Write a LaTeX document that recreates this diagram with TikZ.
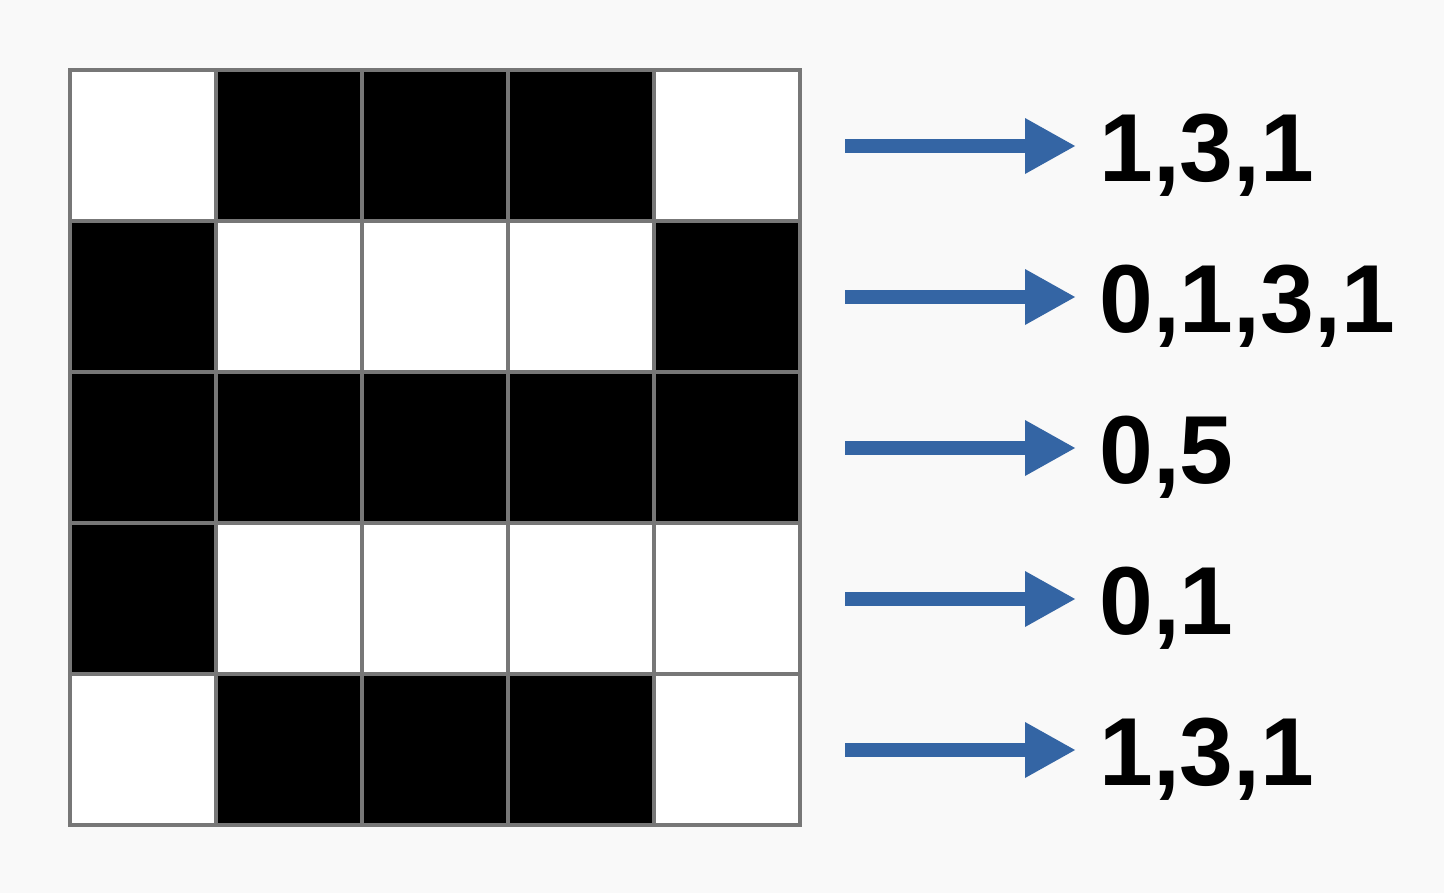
\documentclass[tikz,border=0pt]{standalone}
\usepackage{fontspec}
\setmainfont{Liberation Sans}
\usetikzlibrary{positioning,arrows.meta}
\definecolor{arrowblue}{HTML}{3465A4}
\definecolor{bggray}{HTML}{F9F9F9}
\definecolor{linegray}{HTML}{777777}

\begin{document}
\begin{tikzpicture}[x=0.02cm, y=-0.02cm,
    pixel/.style={fill=black},
    gridline/.style={draw=linegray, line width=0.08cm},
    code/.style={anchor=base west, inner sep=0pt, font=\fontsize{55}{60}\selectfont\bfseries},
    arrow/.style={draw=arrowblue, line width=0.28cm, -{Triangle[length=1.02cm, width=1.04cm, fill=arrowblue]}, shorten >=0.46cm}]

\fill [bggray] (0,0) rectangle (1444,893);
\fill [white] (70,70) rectangle (800,825);

\foreach \r/\row in {1/{0,1,1,1,0}, 2/{1,0,0,0,1}, 3/{1,1,1,1,1}, 4/{1,0,0,0,0}, 5/{0,1,1,1,0}} {
  \foreach \v [count=\c] in \row {
    \ifnum\v=1
      \fill [pixel] ({70+146*(\c-1)},{70+151*(\r-1)}) rectangle ++(146,151);
    \fi
  }
}

\foreach \i in {1,...,4} {
  \draw [gridline] ({70+146*\i},70) -- ({70+146*\i},825);
  \draw [gridline] (70,{70+151*\i}) -- (800,{70+151*\i});
}
\draw [gridline] (70,70) rectangle (800,825);

\node [code] (lab1) at (1099,181) {1,3,1};
\node [code] (lab2) at (1099,332) {0,1,3,1};
\node [code] (lab3) at (1099,483) {0,5};
\node [code] (lab4) at (1099,634) {0,1};
\node [code] (lab5) at (1099,785) {1,3,1};

\foreach \i/\y in {1/146, 2/297, 3/448, 4/599, 5/750} {
  \coordinate (from\i) at (845,\y);
  \draw [arrow] (from\i) -- (from\i -| lab\i.west);
}

\end{tikzpicture}
\end{document}
